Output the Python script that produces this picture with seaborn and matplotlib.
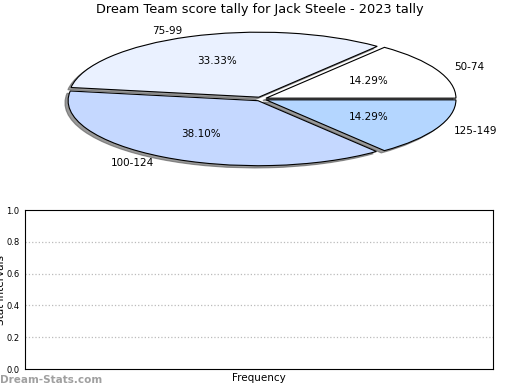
import matplotlib
matplotlib.use('Agg')
import matplotlib.pyplot as plt
import seaborn as sns

# score tally data
bands = ['50-74', '75-99', '100-124', '125-149']
counts = [3, 7, 8, 3]
slice_colors = ['#ffffff', '#eaf1ff', '#c5d8ff', '#b4d6ff']
y_ticks = [0.0, 0.2, 0.4, 0.6, 0.8, 1.0]

title = 'Dream Team score tally for Jack Steele - 2023 tally'

sns.set_style('white')
plt.rcParams['font.family'] = ['DejaVu Sans']
plt.rcParams['text.color'] = 'black'

fig = plt.figure(figsize=(5.2, 3.9), dpi=100)

# top: flattened pie
axp = fig.add_axes([0.0817, 0.5545, 0.840, 0.3833])
wedges, texts, autotexts = axp.pie(counts, labels=bands, colors=slice_colors,
                                   explode=[0.03] * len(counts), autopct='%.2f%%',
                                   shadow={'ox': -0.012, 'oy': -0.025, 'color': '#555555', 'alpha': 0.6},
                                   startangle=0, counterclock=True,
                                   wedgeprops={'edgecolor': 'black', 'linewidth': 0.8},
                                   textprops={'fontsize': 7.5, 'color': 'black'})
axp.set_aspect('auto')
axp.set_xlim(-1.15, 1.15)
axp.set_ylim(-1.15, 1.15)
axp.axis('off')
fig.text(0.5, 0.975, title, ha='center', va='center', fontsize=9.3, color='black')

# bottom: empty frequency axes
ax = fig.add_axes([0.048, 0.0538, 0.90, 0.4077])
ax.set_ylim(0, 1)
ax.set_xlim(0, 1)
ax.set_yticks(y_ticks)
ax.set_yticklabels(['%.1f' % t for t in y_ticks], fontsize=6)
ax.set_xticks([])
ax.tick_params(axis='y', length=2, width=0.5, pad=2, colors='black')
for t in y_ticks[1:-1]:
    ax.axhline(t, color='#bbbbbb', linestyle=':', linewidth=0.9, zorder=0)
for s in ax.spines.values():
    s.set_color('black')
    s.set_linewidth(0.8)
ax.set_xlabel('Frequency', fontsize=7.5, labelpad=3, color='black')
ax.set_ylabel('Stat Intervals', fontsize=7.5, color='black')
ax.yaxis.set_label_coords(-0.04, 0.5)

fig.text(0.0, 0.025, 'Dream-Stats.com', ha='left', va='center', fontsize=7.5,
         fontweight='bold', color='#a0a0a0')

fig.savefig('out.png', dpi=100)
